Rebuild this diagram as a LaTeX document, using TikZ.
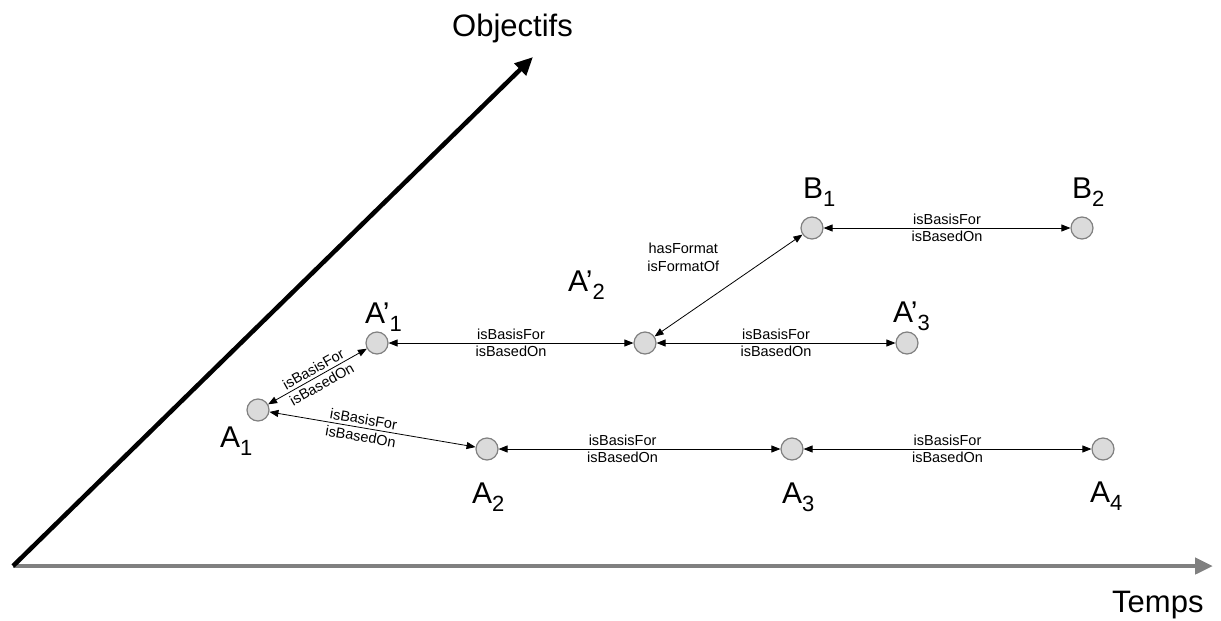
\documentclass[tikz,border=0pt]{standalone}
\usepackage{fontspec}
\setmainfont{Liberation Sans}
\usetikzlibrary{arrows.meta}

% indice abaisse apres une lettre
\newcommand{\ind}[2]{#1\raisebox{-8pt}{\fontsize{22}{22}\selectfont #2}}

\begin{document}
\begin{tikzpicture}[x=1pt, y=-1pt,
  every node/.style={font=\fontsize{14.5}{18}\selectfont},
  etat/.style={circle, draw=gray, fill=gray!28, line width=1.2pt, minimum size=22pt, inner sep=0pt},
  nom/.style={anchor=base west, inner sep=0pt, font=\fontsize{30}{36}\selectfont},
  rel/.style={<->, >={Triangle[length=9pt,width=7pt]}, line width=0.8pt},
  axe/.style={-{Triangle[length=18pt,width=16pt]}, line width=4.5pt}]
  \useasboundingbox (0,0) rectangle (1221,621);

  % axes
  \coordinate (origine) at (13,566);
  \coordinate (haut) at (533,57);
  \coordinate (droite) at (1213,566);
  \draw[axe, draw=gray, fill=gray] (origine) -- (droite);
  \draw[axe] (origine) -- (haut);
  \node[nom, font=\fontsize{31}{36}\selectfont] (objectifs) at (452,36) {Objectifs};
  \node[nom, font=\fontsize{31}{36}\selectfont] (temps) at (1112,612) {Temps};

  % etats
  \foreach \n/\x/\y in {a1/258/410, a1p/377/343, a2p/645/343, a3p/907/343,
                        b1/812/228, b2/1082/228, a2/487/449, a3/792/449, a4/1103/449}
    \node[etat] (\n) at (\x,\y) {};

  % noms
  \node[nom] (la1)  at (220,447)  {\ind{A}{1}};
  \node[nom] (la1p) at (365,323)  {\ind{A’}{1}};
  \node[nom] (la2p) at (568,291)  {\ind{A’}{2}};
  \node[nom] (la3p) at (893,322)  {\ind{A’}{3}};
  \node[nom] (lb1)  at (803,198)  {\ind{B}{1}};
  \node[nom] (lb2)  at (1072,198) {\ind{B}{2}};
  \node[nom] (la2)  at (472,503)  {\ind{A}{2}};
  \node[nom] (la3)  at (782,503)  {\ind{A}{3}};
  \node[nom] (la4)  at (1090,502) {\ind{A}{4}};

  % relations
  \draw[rel] (a1) -- (a1p)
    node[midway, above, sloped, inner sep=3pt] {isBasisFor}
    node[midway, below, sloped, inner sep=3pt] {isBasedOn};
  \draw[rel] (a1) -- (a2)
    node[pos=0.45, above, sloped, inner sep=3pt] {isBasisFor}
    node[pos=0.45, below, sloped, inner sep=3pt] {isBasedOn};
  \draw[rel] (a1p) -- (a2p)
    node[midway, above, inner sep=3pt] {isBasisFor}
    node[midway, below, inner sep=3pt] {isBasedOn};
  \draw[rel] (a2p) -- (a3p)
    node[midway, above, inner sep=3pt] {isBasisFor}
    node[midway, below, inner sep=3pt] {isBasedOn};
  \draw[rel] (b1) -- (b2)
    node[midway, above, inner sep=3pt] {isBasisFor}
    node[midway, below, inner sep=3pt] {isBasedOn};
  \draw[rel] (a2) -- (a3)
    node[pos=0.44, above, inner sep=3pt] {isBasisFor}
    node[pos=0.44, below, inner sep=3pt] {isBasedOn};
  \draw[rel] (a3) -- (a4)
    node[midway, above, inner sep=3pt] {isBasisFor}
    node[midway, below, inner sep=3pt] {isBasedOn};
  \draw[rel] (a2p) -- (b1)
    node[pos=0.6, xshift=-60pt, yshift=18pt, align=center] {hasFormat\\isFormatOf};
\end{tikzpicture}
\end{document}
